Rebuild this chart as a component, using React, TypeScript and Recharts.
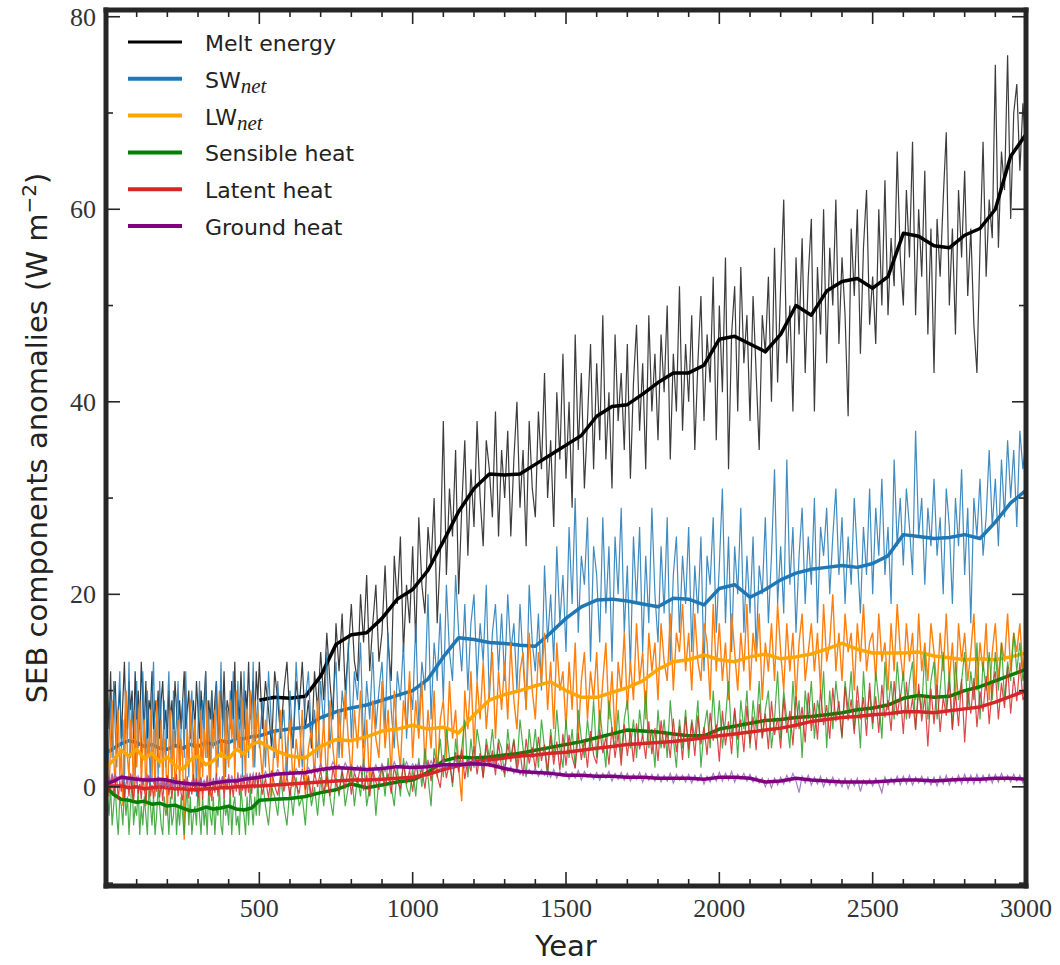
import { LineChart, Line, XAxis, YAxis } from "recharts";

// x grids: raw series every 5 yr up to 500, then every 10 yr; running means every 25 / 50 yr
const thinYears = [
  ...Array.from({ length: 100 }, (_, i) => i * 5),
  ...Array.from({ length: 251 }, (_, i) => 500 + i * 10),
];
const thickYears = [
  ...Array.from({ length: 20 }, (_, i) => i * 25),
  ...Array.from({ length: 51 }, (_, i) => 500 + i * 50),
];
const meltThickYears = thickYears.filter((y) => y >= 500);

const xTicks = [100, 200, 300, 400, 500, 600, 700, 800, 900, 1000, 1100, 1200, 1300, 1400, 1500,
  1600, 1700, 1800, 1900, 2000, 2100, 2200, 2300, 2400, 2500, 2600, 2700, 2800, 2900, 3000];
const xLabels = [500, 1000, 1500, 2000, 2500, 3000];
const yTicks = [-10, 0, 10, 20, 30, 40, 50, 60, 70, 80];
const yLabels = [0, 20, 40, 60, 80];

// Melt energy (raw from year 0, running mean from year 500)
const meltThin = [
  7, 10, 6, 12, 5, 9, 11, 6, 8, 10,
  5, 9, 13, 7, 6, 11, 8, 10, 5, 12,
  7, 10, 6, 13, 9, 6, 11, 5, 9, 8,
  12, 6, 9, 7, 10, 5, 9, 11, 6, 8,
  5, 10, 7, 9, 6, 11, 8, 5, 9, 6,
  9, 12, 6, 8, 10, 5, 7, 9, 6, 11,
  8, 5, 10, 7, 9, 12, 6, 9, 7, 10,
  6, 9, 11, 5, 8, 10, 7, 12, 6, 9,
  8, 6, 11, 7, 13, 5, 9, 7, 12, 8,
  6, 10, 8, 13, 7, 9, 11, 6, 12, 9,
  13, 6, 11, 8, 4, 12, 9, 5, 10, 13,
  7, 4, 11, 8, 13, 6, 9, 4, 12, 8,
  14, 9, 16, 11, 7, 17, 12, 18, 10, 14,
  19, 13, 11, 20, 15, 22, 12, 17, 21, 13,
  16, 23, 15, 11, 24, 19, 26, 14, 21, 17,
  25, 15, 28, 21, 18, 27, 23, 30, 17, 24,
  38, 22, 31, 26, 35, 20, 29, 36, 24, 33,
  27, 38, 30, 25, 36, 33, 28, 39, 26, 35,
  30, 37, 26, 34, 40, 29, 35, 25, 38, 31,
  28, 39, 33, 43, 30, 36, 27, 41, 34, 45,
  32, 40, 29, 47, 35, 43, 31, 38, 46, 33,
  44, 36, 49, 34, 41, 31, 47, 38, 43, 35,
  46, 32, 42, 48, 37, 44, 33, 49, 39, 45,
  36, 47, 41, 50, 34, 45, 39, 52, 37, 46,
  40, 49, 35, 44, 51, 38, 47, 42, 53, 36,
  50, 41, 55, 33, 47, 52, 39, 54, 44, 49,
  38, 51, 43, 35, 49, 45, 53, 40, 56, 42,
  52, 61, 44, 50, 39, 55, 47, 57, 43, 53,
  59, 39, 54, 47, 60, 44, 56, 50, 61, 46,
  55, 49, 38.5, 58, 51, 60, 45, 56, 62, 48,
  53, 46, 60, 50, 63, 49, 57, 52, 66, 55,
  50, 62, 55, 67, 49, 60, 53, 64, 47, 58,
  43, 59, 53, 61, 68, 50, 58, 47, 62, 55,
  64, 51, 58, 48, 43, 56, 67, 53, 61, 57,
  75, 56, 66, 62, 76, 59, 70, 73, 64, 71,
  66];
const meltThick = [9.0, 9.3, 9.2, 9.4, 11.5, 14.8, 15.8, 16.0, 17.5, 19.5,
  20.5, 22.5, 25.5, 28.6, 31, 32.5, 32.4, 32.5, 33.5, 34.5,
  35.5, 36.5, 38.5, 39.5, 39.7, 40.8, 42, 43, 43, 43.8,
  46.5, 46.8, 46, 45.2, 47, 50, 49, 51.5, 52.5, 52.8,
  51.8, 53, 57.5, 57.2, 56.2, 56, 57.3, 58, 60, 65.5, 67.8];

// SW net
const swThin = [
  -6, 1, 5, 9, 3, 11, 6, 2, 8, 12,
  4, 7, 0, 10, 5, 13, 3, 9, 6, 1,
  11, 4, 8, 2, 12, 7, 3, 10, 5, 0,
  9, 13, 4, 7, 1, 11, 6, 3, 9, 2,
  8, 12, 5, 0, 10, 4, 7, 11, 2, 6,
  9, 3, 12, 5, 1, 8, 10, 4, 7, -1,
  6, 11, 2, 9, 5, 12, 3, 8, 0, 10,
  4, 7, 11, 2, 6, 13, 5, 9, 1, 8,
  3, 10, 6, 12, 2, 7, 11, 4, 9, 1,
  12, 5, 8, 3, 10, 6, 13, 2, 7, 9,
  4, 9, 2, 12, 6, 3, 11, 5, 8, 1,
  10, 4, 13, 7, 2, 9, 12, 5, 8, 3,
  11, 6, 14, 4, 9, 13, 3, 10, 7, 15,
  5, 12, 9, 15, 4, 11, 7, 14, 6, 10,
  13, 6, 16, 8, 4, 12, 9, 15, 5, 11,
  8, 17, 6, 13, 10, 20, 7, 15, 11, 18,
  9, 21, 14, 11, 22, 16, 12, 19, 10, 17,
  20, 11, 17, 13, 21, 9, 16, 19, 12, 18,
  11, 20, 14, 17, 10, 19, 13, 8, 21, 15,
  12, 18, 10, 23, 15, 20, 13, 25, 17, 22,
  14, 27, 19, 30, 16, 24, 21, 28, 13, 25,
  22, 15, 28, 18, 25, 13, 26, 20, 29, 16,
  23, 12, 26, 19, 27, 14, 24, 17, 29, 20,
  15, 25, 18, 28, 13, 22, 26, 16, 24, 19,
  27, 14, 23, 18, 26, 12, 24, 21, 28, 16,
  23, 31, 17, 26, 14, 25, 20, 29, 16, 24,
  18, 26, 14, 23, 20, 28, 17, 24, 33, 19,
  25, 18, 34, 21, 27, 16, 24, 29, 19, 26,
  21, 30, 17, 27, 24, 29, 20, 26, 31, 22,
  28, 19, 26, 21, 30, 24, 18, 27, 22, 31,
  20, 29, 24, 32, 22, 27, 19, 34, 25, 30,
  23, 31, 27, 22, 37, 26, 30, 21, 29, 25,
  32, 24, 28, 20, 31, 27, 19, 30, 25, 33,
  22, 29, 17, 30, 26, 32, 24, 28, 35, 27,
  32, 25, 34, 28, 36, 30, 35, 27, 37, 33,
  36];
const swThick = [3.5, 4.0, 4.5, 4.8, 4.6, 4.2, 4.4, 4.0, 3.9, 4.3,
  4.0, 4.4, 4.2, 4.6, 4.4, 4.8, 4.6, 5.0, 5.0, 5.2,
  5.3, 5.8, 6, 6.2, 7.2, 7.8, 8.2, 8.5, 9, 9.5,
  10, 11.2, 13.5, 15.5, 15.3, 15, 14.9, 14.7, 14.6, 16,
  17.5, 18.7, 19.4, 19.5, 19.3, 19, 18.7, 19.6, 19.5, 18.9,
  20.6, 21, 19.7, 20.5, 21.5, 22.2, 22.6, 22.8, 23, 22.8,
  23.2, 24, 26.2, 26, 25.8, 25.9, 26.2, 25.8, 27.5, 29.5, 30.8];

// LW net
const lwThin = [
  7, 2, -1, 5, 9, 3, 0, 6, 8, 1,
  4, -2, 6, 10, 3, 1, 7, 5, -1, 8,
  2, 6, 9, 0, 4, 7, -2, 5, 3, 8,
  1, 6, -1, 9, 4, 2, 7, 0, 5, 3,
  -3, 4, 8, 1, 6, 0, 2, 7, 0, 5,
  3, -5.5, 2, 6, 2, 9, 4, 0, 7, 3,
  5, -2, 8, 1, 6, 3, 9, 2, -1, 7,
  4, 8, 1, 6, 10, 3, 5, 0, 8, 4,
  2, 9, 5, 7, 1, 10, 4, 6, 3, 9,
  5, 1, 8, 4, 10, 6, 2, 9, 5, 8,
  5, 1, 7, 3, -1, 6, 2, 8, 0, 4,
  7, 0, 5, 2, 8, -1, 4, 6, 1, 9,
  2, 7, 0, 9, 4, 1, 8, 3, 10, 5,
  1, 8, 4, 10, 2, 7, 0, 9, 5, 3,
  11, 4, 8, 1, 10, 5, 2, 9, 6, 12,
  3, 9, 5, 11, 2, 8, 4, 10, 1, 7,
  9, 3, 11, 5, 8, 2, -1.5, 10, 6, 12,
  4, 11, 7, 13, 6, 10, 14, 5, 12, 8,
  13, 7, 15, 9, 6, 12, 14, 8, 16, 10,
  7, 14, 11, 16, 8, 13, 6, 15, 10, 12,
  6, 13, 8, 15, 5, 11, 14, 7, 12, 9,
  14, 6, 11, 15, 7, 12, 5, 13, 10, 16,
  8, 13, 9, 17, 11, 14, 7, 16, 12, 15,
  9, 17, 13, 11, 18, 10, 16, 14, 19, 12,
  16, 10, 18, 13, 11, 17, 15, 9, 19, 12,
  17, 11, 15, 9, 18, 14, 10, 16, 12, 19,
  10, 16, 13, 18, 9, 15, 12, 17, 11, 19,
  14, 10, 17, 12, 16, 9, 15, 18, 11, 14,
  17, 12, 16, 10, 19, 13, 15, 20, 12, 16,
  11, 18, 14, 16, 10, 17, 13, 19, 12, 15,
  16, 11, 18, 13, 15, 10, 17, 12, 19, 14,
  11, 17, 13, 16, 9, 18, 12, 15, 11, 17,
  14, 10, 16, 12, 18, 11, 15, 9, 17, 13,
  16, 11, 14, 18, 10, 15, 12, 17, 9, 14,
  17, 11, 15, 13, 18, 12, 16, 14, 17, 12,
  15];
const lwThick = [2.0, 2.8, 3.8, 3.2, 3.9, 2.9, 3.5, 2.6, 3.1, 2.2,
  1.8, 2.8, 3.2, 2.3, 2.7, 3.5, 2.9, 3.9, 3.4, 4.4,
  4.7, 3.8, 3.2, 3.0, 4.2, 4.9, 4.8, 5.2, 5.8, 6.0,
  6.4, 6.0, 6.2, 5.6, 7.5, 9.0, 9.6, 10, 10.5, 10.9,
  10, 9.3, 9.3, 9.8, 10.3, 11, 12.2, 13, 13.2, 13.7,
  13.2, 13, 13.5, 13.8, 13.3, 13.5, 13.8, 14.3, 14.9, 14.3,
  13.9, 13.9, 13.9, 14, 13.6, 13.4, 13.2, 13.3, 13.2, 13.5, 13.9];

// Sensible heat
const shThin = [
  1, -1, -3, 0, -4, -2, 0, -3, -5, -1,
  -2, -4, 0, -3, -1, -5, -2, 1, -4, -2,
  -3, 0, -5, -2, -4, -1, -3, -5, 0, -2,
  -4, -1, -5, -3, 0, -2, -4, -5, -1, -3,
  -2, -5, -1, -4, -3, 0, -5, -2, -4, -1,
  -3, -5, -2, 0, -4, -1, -5, -3, -2, -4,
  0, -3, -5, -1, -4, -2, -5, 0, -3, -4,
  -1, -5, -2, -3, 0, -4, -5, -1, -3, -2,
  -4, 0, -5, -2, -1, -4, -3, -5, 0, -2,
  -3, -5, -1, -4, 0, -2, -4, -1, -3, 1,
  -3, 1, -2, -4, 0, -1, -3, 1, -2, -4,
  0, -3, 1, -2, -1, -4, 1, -2, 0, -3,
  1, -2, 2, -1, -3, 1, -1, 2, -2, 0,
  2, -2, 1, -1, 3, -2, 0, 2, -3, 1,
  2, -1, 3, 0, -2, 2, -1, 3, 0, -1,
  2, -1, 3, 0, 4, 1, -2, 4, 2, 5,
  1, 6, 3, 0, 5, 2, 4, 7, 1, 5,
  2, 6, 4, 1, 5, 3, 6, 2, 5, 4,
  1, 6, 3, 5, 2, 7, 4, 1, 6, 3,
  6, 2, 7, 4, 1, 6, 3, 8, 4, 2,
  7, 3, 6, 2, 8, 5, 3, 7, 4, 9,
  3, 8, 5, 2, 9, 6, 4, 8, 3, 7,
  9, 4, 7, 3, 8, 5, 10, 4, 6, 2,
  8, 4, 7, 3, 9, 5, 2, 7, 4, 8,
  3, 7, 5, 9, 2, 6, 8, 4, 10, 5,
  9, 4, 7, 11, 5, 8, 3, 9, 6, 10,
  4, 9, 6, 11, 5, 8, 10, 4, 7, 12,
  5, 10, 7, 4, 11, 6, 9, 3, 10, 7,
  11, 5, 9, 7, 12, 4, 10, 6, 11, 8,
  5, 11, 8, 12, 6, 9, 4, 12, 7, 10,
  6, 12, 9, 5, 13, 8, 11, 7, 13, 9,
  12, 7, 11, 13, 6, 10, 8, 14, 7, 11,
  13, 7, 10, 14, 8, 12, 6, 13, 9, 11,
  14, 8, 12, 9, 15, 7, 13, 10, 14, 9,
  14, 10, 15, 9, 13, 11, 16, 12, 15, 11,
  13];
const shThick = [0, -0.8, -1.3, -1.4, -1.6, -1.5, -1.8, -1.7, -2.0, -1.9,
  -2.2, -2.5, -2.4, -2.1, -2.3, -2.2, -2.0, -2.3, -2.4, -2.2,
  -1.4, -1.3, -1.2, -1.0, -0.6, -0.3, 0.3, -0.1, 0.2, 0.5,
  0.7, 1.5, 2.7, 3.1, 3.0, 3.1, 3.3, 3.5, 3.8, 4.1,
  4.4, 4.7, 5.1, 5.5, 5.9, 5.8, 5.7, 5.5, 5.3, 5.3,
  6.0, 6.3, 6.6, 6.9, 7.0, 7.2, 7.3, 7.5, 7.7, 8.0,
  8.2, 8.5, 9.2, 9.5, 9.3, 9.4, 10, 10.4, 11, 11.6, 12.2];

// Latent heat
const lhThin = [
  0.4, -1.1, 0.9, -0.3, 1.3, -0.8, 0.2, 1.1, -1.4, 0.6,
  -0.5, 1.2, -1.2, 0.3, 0.8, -1.0, 1.4, -0.4, -1.5, 0.7,
  1.0, -0.7, 0.3, -1.3, 0.9, -0.2, -1.6, 0.5, 1.2, -1.0,
  0.2, -1.2, 0.7, -0.5, 1.1, -1.1, 0.4, -1.5, 0.8, -0.3,
  1.2, -0.9, 0.5, -1.3, 1.0, -0.4, 1.3, -1.0, 0.6, -0.7,
  -1.4, 0.8, -0.2, 1.1, -1.2, 0.4, -0.8, 1.3, -0.5, 0.9,
  -1.1, 0.3, 1.0, -1.3, 0.6, -0.4, 1.2, -0.9, 0.2, -1.5,
  0.9, -0.6, 1.4, -1.0, 0.5, -0.2, 1.1, -1.2, 0.7, -0.3,
  1.3, -0.8, 0.4, -1.1, 1.0, -0.5, 1.5, -0.9, 0.6, -0.4,
  1.2, -1.0, 0.8, -0.6, 1.4, -0.7, 1.1, -0.2, 1.5, 0.0,
  1.5, -0.8, 0.9, -1.2, 1.7, 0.1, -0.9, 1.4, -0.5, 1.1,
  -1.0, 1.6, 0.2, -0.7, 1.9, -0.3, 1.2, -1.1, 1.5, 0.0,
  1.8, -0.6, 1.1, -1.0, 2.0, 0.3, -0.5, 1.6, -0.2, 2.1,
  -0.8, 1.5, 0.4, 2.2, -0.4, 1.3, -1.0, 1.9, 0.5, -0.3,
  2.3, 0.1, 1.4, -0.7, 2.1, 0.6, -0.2, 2.4, 0.3, 1.7,
  -0.5, 2.4, 0.8, 1.9, -0.2, 2.8, 0.6, 3.0, 1.2, -0.1,
  3.3, 0.9, 2.6, 0.4, 3.6, 1.5, 3.9, 0.8, 2.9, 1.6,
  4.2, 1.3, 3.5, 0.9, 4.4, 2.1, 3.8, 1.2, 4.6, 2.0,
  1.4, 4.5, 2.6, 4.8, 1.5, 3.7, 1.1, 5.0, 2.4, 4.1,
  1.8, 5.2, 2.7, 4.4, 1.6, 5.3, 2.3, 4.7, 1.7, 5.5,
  2.2, 5.4, 3.1, 1.9, 5.6, 2.8, 4.9, 2.0, 5.8, 3.3,
  2.4, 6.0, 3.5, 5.2, 2.3, 6.2, 3.0, 5.6, 2.2, 6.5,
  3.2, 5.8, 2.6, 6.6, 3.9, 5.4, 2.9, 6.8, 3.4, 6.1,
  2.7, 6.9, 4.0, 5.7, 3.0, 7.1, 3.6, 6.3, 2.8, 7.3,
  3.9, 6.7, 3.2, 7.4, 4.4, 6.2, 3.3, 7.7, 4.8, 6.5,
  2.6, 7.9, 4.3, 6.8, 3.4, 8.2, 4.9, 7.0, 3.6, 8.4,
  4.5, 7.3, 3.8, 8.6, 5.1, 7.6, 3.9, 8.9, 5.4, 7.2,
  4.0, 9.2, 5.6, 7.9, 4.3, 9.4, 6.0, 8.3, 4.6, 9.8,
  5.8, 8.7, 4.9, 10.1, 6.4, 8.5, 5.0, 10.3, 6.8, 8.9,
  5.2, 10.4, 6.9, 9.1, 5.5, 10.5, 7.0, 9.3, 5.3, 10.8,
  6.6, 9.4, 5.6, 10.6, 7.2, 9.0, 5.8, 11.0, 7.4, 9.6,
  5.5, 10.9, 7.1, 9.2, 5.9, 10.7, 6.8, 9.5, 4.2, 10.2,
  6.5, 10.6, 5.7, 9.3, 7.4, 11.0, 5.9, 9.8, 6.3, 11.2,
  4.6, 10.1, 7.6, 11.3, 6.2, 9.9, 7.8, 11.5, 6.5, 10.4,
  12.0, 7.0, 10.8, 8.2, 12.5, 7.6, 11.4, 8.9, 12.9, 9.1,
  9.5];
const lhThick = [0, 0.1, 0.1, -0.1, 0, -0.2, -0.1, 0, -0.1, -0.2,
  -0.2, -0.3, -0.3, -0.2, -0.2, -0.1, -0.1, 0, 0, 0.1,
  0.1, 0.2, 0.3, 0.4, 0.5, 0.6, 0.7, 0.7, 0.8, 0.9,
  1.0, 1.3, 1.8, 2.2, 2.6, 2.8, 3.0, 3.2, 3.3, 3.5,
  3.6, 3.8, 4.0, 4.2, 4.4, 4.5, 4.6, 4.7, 4.9, 5.1,
  5.3, 5.5, 5.7, 5.9, 6.1, 6.4, 6.8, 7.0, 7.2, 7.3,
  7.5, 7.6, 7.8, 7.8, 7.7, 7.9, 8.1, 8.3, 8.8, 9.4, 10.0];

// Ground heat
const ghThin = [
  0.0, 0.6, 1.1, 0.5, 1.4, 0.8, 1.3, 0.6, 1.0, 0.7,
  1.2, 0.5, 1.1, 0.8, 0.4, 1.0, 0.6, 1.2, 0.7, 0.9,
  0.4, 1.1, 0.6, 1.0, 0.3, 0.9, 0.7, 1.2, 0.5, 0.8,
  1.0, 0.4, 0.9, 0.3, 0.8, 0.1, 0.6, 0.2, 0.7, 0.0,
  0.5, -0.1, 0.6, 0.2, 0.7, 0.0, 0.5, 0.3, 0.8, -0.1,
  0.4, 0.1, 0.7, -0.2, 0.5, 0.2, 0.6, 0.0, 0.8, 0.1,
  0.6, 0.3, 0.9, 0.1, 0.7, 0.4, 0.8, 0.2, 0.9, 0.3,
  0.7, 0.5, 1.0, 0.3, 0.9, 0.4, 1.1, 0.5, 0.8, 0.6,
  1.0, 0.4, 1.2, 0.6, 0.9, 0.5, 1.1, 0.7, 1.2, 0.5,
  1.0, 0.8, 1.3, 0.6, 1.1, 0.9, 1.4, 0.7, 1.2, 0.8,
  1.4, 0.8, 1.6, 1.0, 1.5, 1.1, 1.8, 1.2, 1.6, 1.0,
  1.7, 1.1, 1.9, 1.3, 1.6, 1.2, 2.0, 1.4, 2.2, 1.5,
  2.4, 1.6, 2.1, 1.7, 2.6, 1.9, 2.3, 1.6, 2.5, 1.8,
  2.3, 1.5, 2.2, 1.7, 2.4, 1.4, 2.1, 1.6, 2.3, 1.5,
  2.4, 1.6, 2.3, 1.7, 2.6, 1.8, 2.4, 1.9, 2.6, 1.7,
  2.4, 1.8, 2.5, 1.7, 2.6, 1.9, 2.7, 2.0, 2.5, 1.8,
  2.8, 2.0, 2.6, 1.9, 2.9, 2.1, 2.7, 2.0, 2.8, 2.1,
  2.9, 2.1, 2.7, 2.0, 2.8, 2.2, 2.6, 1.9, 2.4, 1.7,
  2.3, 1.6, 2.1, 1.4, 2.0, 1.3, 1.9, 1.2, 1.8, 1.3,
  1.9, 1.1, 1.8, 1.2, 1.7, 1.0, 1.8, 0.9, 1.6, 1.1,
  1.6, 0.8, 1.5, 0.9, 1.7, 0.7, 1.6, 1.0, 1.4, 0.8,
  1.5, 0.7, 1.4, 0.9, 1.6, 0.6, 1.4, 0.8, 1.5, 0.7,
  1.4, 0.6, 1.3, 0.8, 1.5, 0.5, 1.4, 0.7, 1.3, 0.6,
  1.3, 0.5, 1.2, 0.6, 1.4, 0.4, 1.3, 0.7, 1.2, 0.5,
  1.3, 0.4, 1.2, 0.6, 1.3, 0.3, 1.1, 0.5, 1.4, 0.6,
  1.5, 0.6, 1.4, 0.7, 1.6, 0.5, 1.3, 0.8, 1.4, 0.6,
  1.3, 0.5, 1.1, 0.4, 0.9, 0.0, 0.8, -0.1, 0.9, 0.2,
  1.0, 0.3, 1.2, 0.5, 1.4, 0.6, -0.6, 1.1, 0.4, 1.2,
  0.2, 1.0, 0.3, 1.1, 0.0, 0.9, 0.2, 1.0, 0.1, 0.8,
  0.0, 0.9, -0.2, 0.8, 0.1, 0.9, -0.5, 0.7, 0.2, 0.8,
  0.1, 0.9, 0.3, -0.6, 1.0, 0.2, 0.9, 0.3, 1.1, 0.2,
  1.1, 0.3, 1.2, 0.2, 1.0, 0.4, 1.1, 0.3, 1.0, 0.2,
  1.0, 0.1, 1.1, 0.3, 1.2, 0.2, 1.0, 0.4, 1.2, 0.3,
  1.3, 0.4, 1.2, 0.3, 1.3, 0.4, 1.2, 0.5, 1.3, 0.4,
  1.3, 0.5, 1.4, 0.6, 1.2, 0.5, 1.3, 0.6, 1.2, 0.4,
  1.0];
const ghThick = [0.3, 0.6, 1.0, 0.9, 0.8, 0.7, 0.7, 0.8, 0.7, 0.5,
  0.4, 0.3, 0.3, 0.2, 0.4, 0.5, 0.6, 0.6, 0.8, 0.9,
  1.0, 1.3, 1.4, 1.5, 1.8, 2.0, 1.9, 1.8, 1.9, 2.1,
  2.0, 2.1, 2.3, 2.3, 2.4, 2.3, 1.9, 1.6, 1.5, 1.4,
  1.2, 1.2, 1.1, 1.1, 1.0, 1.0, 0.9, 0.9, 0.9, 0.8,
  1.0, 1.0, 0.9, 0.5, 0.6, 0.9, 0.7, 0.6, 0.5, 0.5,
  0.5, 0.6, 0.7, 0.7, 0.6, 0.7, 0.8, 0.8, 0.9, 0.9, 0.8];

const rows = (years: number[], values: number[]) =>
  years.map((year, i) => ({ year, value: values[i] }));

const series = [
  { key: "melt", thin: rows(thinYears, meltThin), thick: rows(meltThickYears, meltThick), thinColor: "#1a1a1a", thinOpacity: 0.85, thinWidth: 1.2, color: "#000000" },
  { key: "sw", thin: rows(thinYears, swThin), thick: rows(thickYears, swThick), thinColor: "#1f77b4", thinOpacity: 0.85, thinWidth: 1.2, color: "#1f77b4" },
  { key: "lw", thin: rows(thinYears, lwThin), thick: rows(thickYears, lwThick), thinColor: "#ff7f0e", thinOpacity: 1, thinWidth: 1.4, color: "#ffa500" },
  { key: "sh", thin: rows(thinYears, shThin), thick: rows(thickYears, shThick), thinColor: "#2ca02c", thinOpacity: 0.85, thinWidth: 1.2, color: "#008000" },
  { key: "lh", thin: rows(thinYears, lhThin), thick: rows(thickYears, lhThick), thinColor: "#d62728", thinOpacity: 0.85, thinWidth: 1.2, color: "#d62728" },
  { key: "gh", thin: rows(thinYears, ghThin), thick: rows(thickYears, ghThick), thinColor: "#9467bd", thinOpacity: 0.85, thinWidth: 1.2, color: "#800080" },
];

const legendItems = [
  { label: "Melt energy", color: "#000000", width: 3 },
  { label: "SW", sub: "net", color: "#1f77b4", width: 4 },
  { label: "LW", sub: "net", color: "#ffa500", width: 4 },
  { label: "Sensible heat", color: "#008000", width: 4 },
  { label: "Latent heat", color: "#d62728", width: 4 },
  { label: "Ground heat", color: "#800080", width: 4 },
];

const INK = "#262626";
const frame = { stroke: INK, strokeWidth: 5, strokeLinecap: "square" as const };
const tickFont = { fontFamily: "'Liberation Serif', serif", fontSize: 26, fill: "#333" };

const BottomTick = ({ x, y, payload }: any) => {
  const major = xLabels.includes(payload.value);
  return (
    <g>
      <line x1={x} x2={x} y1={y} y2={y - (major ? 14 : 7)} stroke={INK} strokeWidth={1.6} />
      {major && (
        <text x={x} y={y + 31} textAnchor="middle" {...tickFont}>
          {payload.value}
        </text>
      )}
    </g>
  );
};

const TopTick = ({ x, y, payload }: any) => {
  const major = xLabels.includes(payload.value);
  return <line x1={x} x2={x} y1={y} y2={y + (major ? 14 : 7)} stroke={INK} strokeWidth={1.6} />;
};

const LeftTick = ({ x, y, payload }: any) => {
  const major = yLabels.includes(payload.value);
  return (
    <g>
      <line x1={x} x2={x + (major ? 14 : 7)} y1={y} y2={y} stroke={INK} strokeWidth={1.6} />
      {major && (
        <text x={x - 10} y={y + 9} textAnchor="end" {...tickFont}>
          {payload.value}
        </text>
      )}
    </g>
  );
};

const RightTick = ({ x, y, payload }: any) => {
  const major = yLabels.includes(payload.value);
  return <line x1={x} x2={x - (major ? 14 : 7)} y1={y} y2={y} stroke={INK} strokeWidth={1.6} />;
};

export default function App() {
  const sans = "'DejaVu Sans', sans-serif";
  return (
    <div style={{ position: "absolute", left: 0, top: 0, width: 1060, height: 965, background: "#fff" }}>
      <LineChart width={1060} height={965} margin={{ top: 9, right: 33, bottom: 78, left: 105 }}>
        <XAxis xAxisId="b" dataKey="year" type="number" domain={[0, 3000]} allowDataOverflow
          ticks={xTicks} interval={0} tick={(p: any) => <BottomTick {...p} />}
          tickSize={0} tickMargin={0} height={1} axisLine={frame} />
        <XAxis xAxisId="t" orientation="top" dataKey="year" type="number" domain={[0, 3000]} allowDataOverflow
          ticks={xTicks} interval={0} tick={(p: any) => <TopTick {...p} />}
          tickSize={0} tickMargin={0} height={1} axisLine={frame} />
        <YAxis yAxisId="l" type="number" domain={[-10.3, 80.7]} allowDataOverflow
          ticks={yTicks} interval={0} tick={(p: any) => <LeftTick {...p} />}
          tickSize={0} tickMargin={0} width={1} axisLine={frame} />
        <YAxis yAxisId="r" orientation="right" type="number" domain={[-10.3, 80.7]} allowDataOverflow
          ticks={yTicks} interval={0} tick={(p: any) => <RightTick {...p} />}
          tickSize={0} tickMargin={0} width={1} axisLine={frame} />
        {series.flatMap((s) => [
          <Line key={s.key + "-thin"} xAxisId="b" yAxisId="l" data={s.thin} dataKey="value"
            type="linear" stroke={s.thinColor} strokeOpacity={s.thinOpacity} strokeWidth={s.thinWidth}
            dot={false} activeDot={false} isAnimationActive={false} />,
          <Line key={s.key + "-thick"} xAxisId="b" yAxisId="l" data={s.thick} dataKey="value"
            type="linear" stroke={s.color} strokeWidth={3.5} strokeLinejoin="round"
            dot={false} activeDot={false} isAnimationActive={false} />,
        ])}
      </LineChart>
      <svg width={1060} height={965} style={{ position: "absolute", left: 0, top: 0, pointerEvents: "none" }}>
        {legendItems.map((item, i) => {
          const cy = 42 + i * 36.8;
          return (
            <g key={item.label}>
              <line x1={128} x2={182} y1={cy} y2={cy} stroke={item.color} strokeWidth={item.width} />
              <text x={205} y={cy + 9} fontFamily={sans} fontSize={22} fill="#222">
                {item.label}
                {item.sub && (
                  <tspan dy={5} fontFamily="'Liberation Serif', serif" fontStyle="italic" fontSize={21}>
                    {item.sub}
                  </tspan>
                )}
              </text>
            </g>
          );
        })}
        <text x={47} y={438} transform="rotate(-90 47 438)" textAnchor="middle" fontFamily={sans} fontSize={29} fill="#222">
          SEB components anomalies (W m
          <tspan dy={-11} fontSize={20}>−2</tspan>
          <tspan dy={11}>)</tspan>
        </text>
        <text x={566} y={956} textAnchor="middle" fontFamily={sans} fontSize={29} fill="#222">
          Year
        </text>
      </svg>
    </div>
  );
}
